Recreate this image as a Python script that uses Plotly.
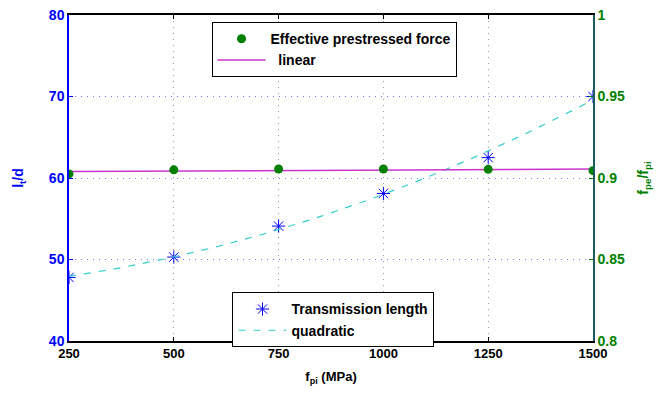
import numpy as np
import plotly.graph_objects as go

fpi = [250, 500, 750, 1000, 1250, 1500]
lt_d = [47.8, 50.3, 54.1, 58.1, 62.5, 70.0]
fpe_fpi = [0.9025, 0.9050, 0.9055, 0.9055, 0.9053, 0.9045]

x_ticks = [250, 500, 750, 1000, 1250, 1500]
y_ticks = [40, 50, 60, 70, 80]
y2_ticks = [0.8, 0.85, 0.9, 0.95, 1]
y2_ticktext = ["0.8", "0.85", "0.9", "0.95", "1"]

# fits (as in the original: quadratic for transmission length, linear for force)
xf = np.linspace(min(fpi), max(fpi), 120)
quad = np.polyval(np.polyfit(fpi, lt_d, 2), xf)
lin = np.polyval(np.polyfit(fpi, fpe_fpi, 1), xf)

FONT = "Liberation Sans, Arial, Helvetica, sans-serif"

fig = go.Figure()

fig.add_trace(go.Scatter(
    x=fpi, y=lt_d, mode="markers", name="Transmission length",
    marker=dict(symbol="asterisk-open", size=11, color="#0000ff",
                line=dict(color="#0000ff", width=1)),
    legend="legend2"))
fig.add_trace(go.Scatter(
    x=xf, y=quad, mode="lines", name="quadratic",
    line=dict(color="#33cccc", width=1.2, dash="7px,8px"),
    legend="legend2"))
fig.add_trace(go.Scatter(
    x=xf, y=lin, mode="lines", name="\u00a0\u00a0linear",
    line=dict(color="#cc33cc", width=1.5),
    yaxis="y2", legend="legend"))
fig.add_trace(go.Scatter(
    x=fpi, y=fpe_fpi, mode="markers", name="Effective prestressed force",
    marker=dict(symbol="circle", size=9, color="#008000"),
    yaxis="y2", legend="legend"))

fig.update_layout(
    width=665, height=401,
    margin=dict(l=61, r=80, t=7, b=68, autoexpand=False),
    paper_bgcolor="white", plot_bgcolor="white",
    font=dict(family=FONT, size=13, color="black", weight="bold"),
    xaxis=dict(
        range=[250, 1500], tickvals=x_ticks, ticks="inside", ticklen=4,
        tickcolor="black", showline=True, linecolor="black", linewidth=1.5,
        mirror="ticks", showgrid=True, gridcolor="#999999", griddash="1px,5px",
        gridwidth=1, zeroline=False, automargin=False, ticklabeloverflow="allow",
        tickfont=dict(family=FONT, size=13, color="black", weight="bold"),
        title=dict(text="f<sub>pi</sub> (MPa)", standoff=12,
                   font=dict(family=FONT, size=13, color="black", weight="bold")),
    ),
    yaxis=dict(
        range=[40, 80], tickvals=y_ticks, ticks="inside", ticklen=4,
        tickcolor="#0000ff", showline=True, linecolor="#0000ff", linewidth=1.5,
        mirror="ticks", showgrid=True, gridcolor="#7777ff", griddash="1px,5px",
        gridwidth=1, zeroline=False, automargin=False, ticklabeloverflow="allow",
        tickfont=dict(family=FONT, size=14, color="#0000ff", weight="bold"),
        title=dict(text="l<sub>t</sub>/d", standoff=22,
                   font=dict(family=FONT, size=14, color="#0000ff", weight="bold")),
    ),
    yaxis2=dict(
        range=[0.8, 1.0], tickvals=y2_ticks, ticktext=y2_ticktext,
        overlaying="y", side="right", ticks="inside", ticklen=4,
        tickcolor="#008000", showline=True, linecolor="#1f5a60", linewidth=1.5,
        showgrid=False, zeroline=False, automargin=False, ticklabeloverflow="allow",
        tickfont=dict(family=FONT, size=14, color="#008000", weight="bold"),
        title=dict(text="f<sub>pe</sub>/f<sub>pi</sub>", standoff=14,
                   font=dict(family=FONT, size=14, color="#008000", weight="bold")),
    ),
    legend=dict(
        x=0.272, y=0.978, xanchor="left", yanchor="top",
        bgcolor="white", bordercolor="black", borderwidth=1,
        font=dict(family=FONT, size=14, color="black", weight="bold"),
        traceorder="reversed", tracegroupgap=0, itemwidth=48,
    ),
    legend2=dict(
        x=0.312, y=0.149, xanchor="left", yanchor="top",
        bgcolor="white", bordercolor="black", borderwidth=1,
        font=dict(family=FONT, size=14, color="black", weight="bold"),
        traceorder="normal", tracegroupgap=0, itemwidth=48,
    ),
)

fig.write_html("out.html")
